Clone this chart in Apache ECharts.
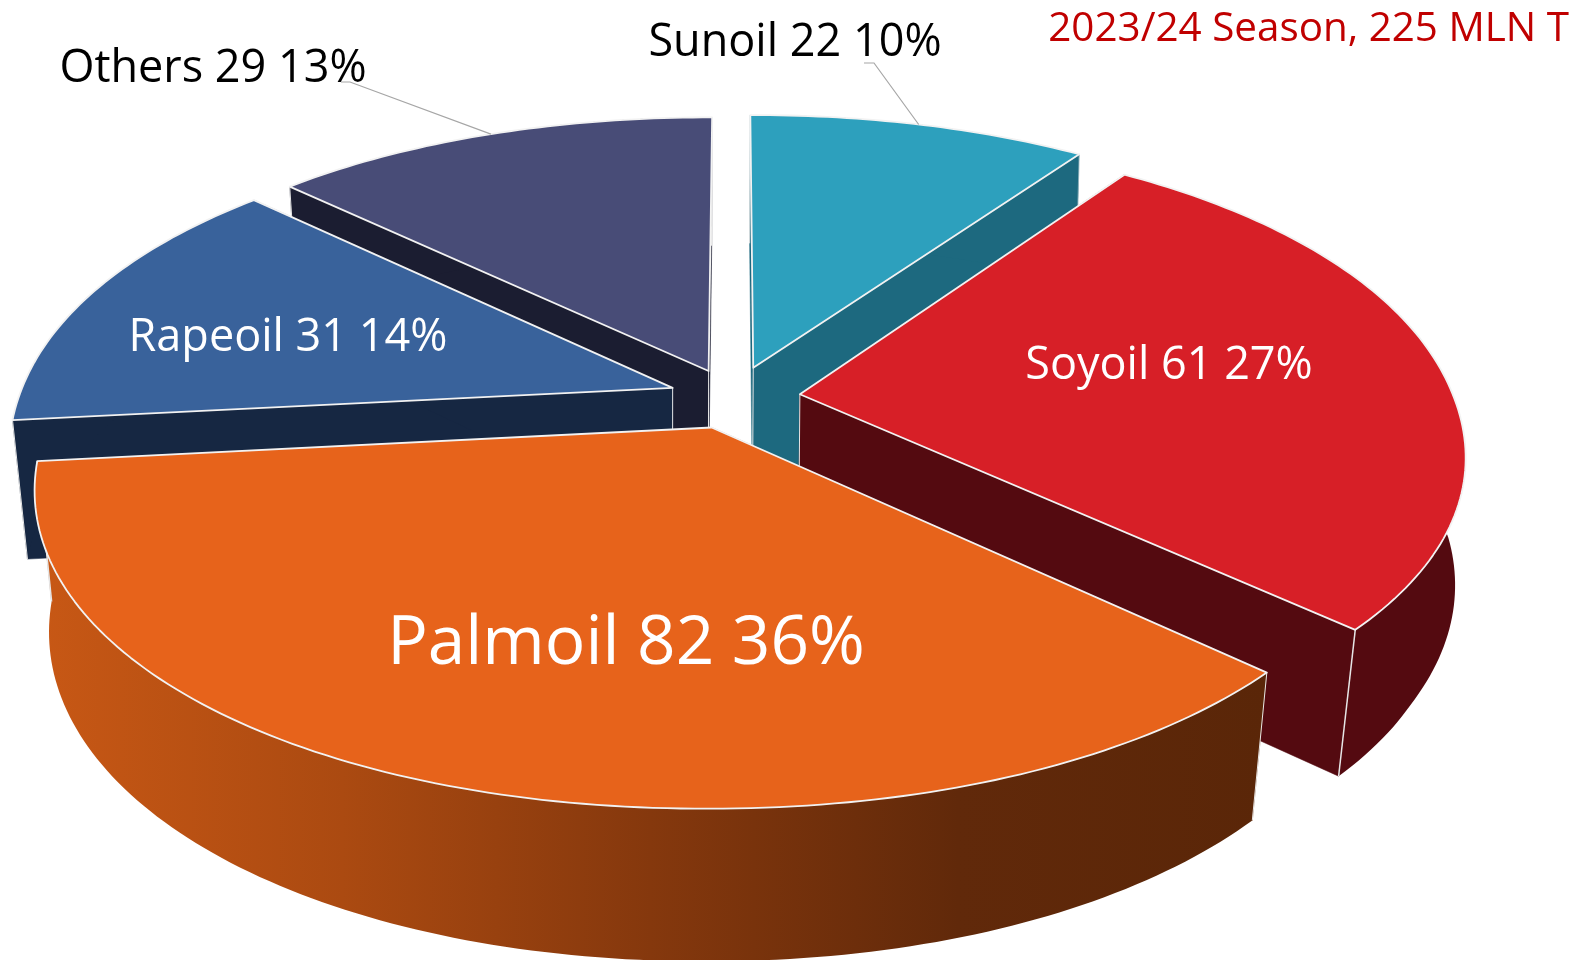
<!DOCTYPE html>
<html><head><meta charset="utf-8">
<style>html,body{margin:0;padding:0;background:#fff}#c{width:1590px;height:960px}</style>
<script src="https://cdn.jsdelivr.net/npm/echarts@6/dist/echarts.min.js"></script>
</head><body><div id="c"></div>
<script>
// Data, clockwise from 12 o'clock
const categories = ['Sunoil', 'Soyoil', 'Palmoil', 'Rapeoil', 'Others'];
const values = [22, 61, 82, 31, 29];
const titleText = '2023/24 Season, 225 MLN T';

// Styles
const topColors = ['#2DA0BD', '#D71F27', '#E7631B', '#39629B', '#484C77'];
const wallColors = ['#1D697F', '#540A10', '#C85815', '#162742', '#1B1D31'];
const explode = [0.104, 0.103, 0.102, 0.098, 0.096];
const drawOrder = [0, 4, 3, 1, 2];
const labelPos = [[795, 43], [1169, 366], [626, 645], [288, 338], [213, 69]];
const labelSize = [45, 45, 67.5, 45, 45];
const labelColor = ['#000', '#fff', '#fff', '#fff', '#000'];
const leaderElbow = [[[874, 63], [864, 63]], null, null, null, [[350, 82], [341, 82]]];

// Perspective of the pie plane
const view = { cx: 733, cy: 397.5, a: 654, b: 305, p: 0.17, n: 2.05 };
const base = { xv: 662, sL: 0.023, h: 139, k: 0.035, y0: 419 };
const fontFamily = '"Open Sans"';

const total = values.reduce((s, v) => s + v, 0);
const slices = [];
values.reduce((acc, v, i) => {
  const start = acc / total * 2 * Math.PI, end = (acc + v) / total * 2 * Math.PI;
  slices.push({ start, end, mid: (start + end) / 2, i });
  return acc + v;
}, 0);

function proj(U, V) {
  const w = 1 - view.p * V;
  return [view.cx + view.a * U / w, view.cy + view.b * V / w];
}
function down(pt) {
  const dx = pt[0] - base.xv;
  const shrink = dx < 0 ? base.sL : Math.min(0.024, Math.max(0.008, 0.008 + (pt[1] - 400) * 0.0001));
  return [base.xv + dx * (1 - shrink), pt[1] + base.h + base.k * (pt[1] - base.y0)];
}
function rim(sl, ang) {
  const e = explode[sl.i];
  const sa = Math.sin(ang), ca = Math.cos(ang);
  const r = Math.pow(Math.pow(Math.abs(sa), view.n) + Math.pow(Math.abs(ca), view.n), -1 / view.n);
  return proj(e * Math.sin(sl.mid) + r * sa, -e * Math.cos(sl.mid) - r * ca);
}
function apex(sl) {
  const e = explode[sl.i];
  return proj(e * Math.sin(sl.mid), -e * Math.cos(sl.mid));
}

function poly(points, fill, stroke, lw) {
  return { type: 'polygon', shape: { points }, style: { fill, stroke: stroke || fill, lineWidth: lw === undefined ? 0.5 : lw, lineJoin: 'round' } };
}
function seg(points, stroke, lw) {
  return { type: 'polyline', shape: { points }, style: { fill: null, stroke, lineWidth: lw } };
}

function renderItem(params, api) {
  const sl = slices[api.value(0)];
  const i = sl.i;
  const A = apex(sl), Ab = down(A);
  const arc = [];
  const n = Math.max(8, Math.round((sl.end - sl.start) * 180 / Math.PI));
  for (let k = 0; k <= n; k++) arc.push(rim(sl, sl.start + (sl.end - sl.start) * k / n));
  const arcB = arc.map(down);
  const first = arc[0], last = arc[arc.length - 1];
  const wall = wallColors[i];
  const outerFill = i === 2
    ? new echarts.graphic.LinearGradient(0, 0, 1, 0, [
        { offset: 0, color: '#C85815' }, { offset: 0.25, color: '#AB4A11' },
        { offset: 0.5, color: '#85380D' }, { offset: 0.75, color: '#61290A' },
        { offset: 1, color: '#5A2608' }])
    : wall;
  const edge = '#e6e6e6';
  const children = [
    poly([A, first, down(first), Ab], i === 2 ? '#85380D' : wall),
    poly([A, last, down(last), Ab], i === 2 ? '#85380D' : wall),
    { type: 'polygon', shape: { points: arc.concat(arcB.slice().reverse()) }, style: { fill: outerFill } },
    seg([A, Ab], edge, 1),
    seg([first, down(first)], edge, 1),
    seg([last, down(last)], edge, i === 0 ? 0.5 : 1.5),
    poly([A].concat(arc), topColors[i], '#f2f2f2', 1.8)
  ];
  if (leaderElbow[i]) {
    children.push(seg([rim(sl, sl.mid)].concat(leaderElbow[i]), '#a6a6a6', 1.2));
  }
  const pct = Math.round(values[i] / total * 100);
  children.push({
    type: 'text',
    style: {
      text: categories[i] + ' ' + values[i] + ' ' + pct + '%',
      x: labelPos[i][0], y: labelPos[i][1],
      fill: labelColor[i],
      font: '500 ' + labelSize[i] + 'px ' + fontFamily,
      align: 'center', verticalAlign: 'middle'
    }
  });
  return { type: 'group', children };
}

const chart = echarts.init(document.getElementById('c'));
chart.setOption({
  animation: false,
  backgroundColor: '#fff',
  title: {
    text: titleText, right: 16, top: 4,
    textStyle: { color: '#C00000', fontSize: 40.4, fontWeight: 500, fontFamily: 'Open Sans' }
  },
  series: [{
    type: 'custom',
    coordinateSystem: 'none',
    silent: true,
    clip: false,
    renderItem,
    data: drawOrder.map(i => [i])
  }]
});
</script></body></html>
